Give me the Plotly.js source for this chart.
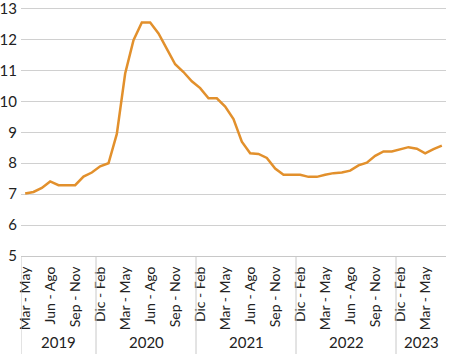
<!DOCTYPE html>
<html><head><meta charset="utf-8">
<script src="https://cdn.plot.ly/plotly-3.0.1.min.js"></script>
<style>html,body{margin:0;padding:0;background:#fff}#c{width:449px;height:354px}</style>
</head><body><div id="c"></div><script>
const periods = [
 "Mar - May","Abr - Jun","May - Jul","Jun - Ago","Jul - Sep","Ago - Oct","Sep - Nov","Oct - Dic","Nov - Ene",
 "Dic - Feb","Ene - Mar","Feb - Abr","Mar - May","Abr - Jun","May - Jul","Jun - Ago","Jul - Sep","Ago - Oct","Sep - Nov","Oct - Dic","Nov - Ene",
 "Dic - Feb","Ene - Mar","Feb - Abr","Mar - May","Abr - Jun","May - Jul","Jun - Ago","Jul - Sep","Ago - Oct","Sep - Nov","Oct - Dic","Nov - Ene",
 "Dic - Feb","Ene - Mar","Feb - Abr","Mar - May","Abr - Jun","May - Jul","Jun - Ago","Jul - Sep","Ago - Oct","Sep - Nov","Oct - Dic","Nov - Ene",
 "Dic - Feb","Ene - Mar","Feb - Abr","Mar - May","Abr - Jun","May - Jul"
];
const years = ["2019","2020","2021","2022","2023"];
const yearCounts = [9, 12, 12, 12, 6];
const yTicks = [5, 6, 7, 8, 9, 10, 11, 12, 13];
const values = [
 7.02, 7.07, 7.2, 7.41, 7.29, 7.29, 7.29, 7.57, 7.7,
 7.9, 8.0, 8.95, 10.9, 11.98, 12.55, 12.55, 12.2, 11.7, 11.2, 10.95, 10.65,
 10.43, 10.1, 10.1, 9.83, 9.43, 8.7, 8.32, 8.3, 8.17, 7.83, 7.63, 7.63,
 7.63, 7.56, 7.56, 7.63, 7.68, 7.7, 7.76, 7.93, 8.02, 8.24, 8.38, 8.38,
 8.45, 8.52, 8.47, 8.32, 8.46, 8.57
];

const idx = values.map((v, i) => i);
const tickvals = idx.filter(i => i % 3 === 0);
const ticktext = tickvals.map(i => periods[i]);

const plotH = 252;
const shapes = [];
const annotations = [];
let start = 0;
years.forEach((y, k) => {
  const n = yearCounts[k];
  shapes.push({type: 'line', xref: 'x', yref: 'paper', x0: start - 0.5, x1: start - 0.5,
    y0: 0, y1: -98 / plotH, line: {color: '#c8c8c8', width: 1}});
  annotations.push({xref: 'x', yref: 'paper', x: start + (n - 1) / 2, y: -86 / plotH,
    text: y, showarrow: false, yanchor: 'middle', xanchor: 'center',
    font: {family: 'Lato, sans-serif', size: 15, color: '#222'}});
  start += n;
});

const data = [{
  x: idx, y: values, type: 'scatter', mode: 'lines',
  line: {color: '#E2902C', width: 2.5}, hoverinfo: 'skip'
}];

const layout = {
  width: 449, height: 354,
  margin: {l: 21, r: 3, t: 4, b: 98},
  paper_bgcolor: '#fff', plot_bgcolor: '#fff',
  showlegend: false,
  font: {family: 'Lato, sans-serif', size: 15, color: '#222'},
  xaxis: {
    range: [-0.5, idx.length - 0.5], tickmode: 'array', tickvals: tickvals, ticktext: ticktext,
    tickangle: -90, showgrid: false, zeroline: false, showline: true, linecolor: '#c8c8c8', linewidth: 1,
    ticks: 'outside', ticklen: 4, tickcolor: 'rgba(0,0,0,0)',
    tickfont: {family: 'Lato, sans-serif', size: 14, color: '#222'}, fixedrange: true
  },
  yaxis: {
    range: [5, 13.15], tickmode: 'array', tickvals: yTicks, ticktext: yTicks.map(String),
    showgrid: true, gridcolor: '#d0d0d0', gridwidth: 1, ticklabeloverflow: 'allow',
    zeroline: false, showline: false, ticks: '', ticklabelstandoff: 3,
    tickfont: {family: 'Lato, sans-serif', size: 15, color: '#222'}, fixedrange: true
  },
  shapes: shapes,
  annotations: annotations
};

Plotly.newPlot('c', data, layout, {displayModeBar: false, staticPlot: true});
</script></body></html>
